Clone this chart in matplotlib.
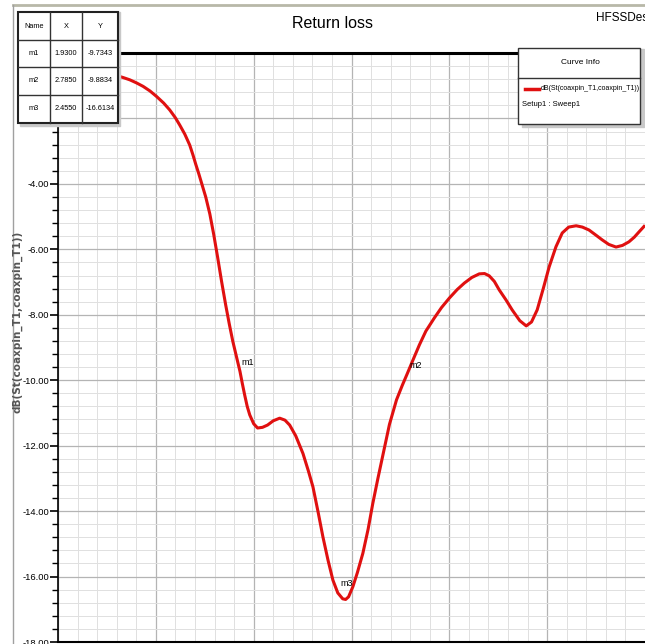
import matplotlib.pyplot as plt
import matplotlib.patches as patches
import matplotlib.lines as mlines

plt.rcParams['font.family'] = ['Liberation Sans', 'DejaVu Sans']

# curve (GHz, dB)
freq = [1.00, 1.10, 1.20, 1.25, 1.30, 1.333, 1.367, 1.40, 1.435, 1.47, 1.504,
        1.54, 1.571, 1.60, 1.622, 1.648, 1.673, 1.69, 1.704, 1.72, 1.735,
        1.755, 1.776, 1.796, 1.816, 1.836, 1.857, 1.875, 1.893, 1.912, 1.930,
        1.942, 1.954, 1.967, 1.980, 2.000, 2.020, 2.045, 2.071, 2.100, 2.133,
        2.160, 2.184, 2.215, 2.252, 2.280, 2.303, 2.330, 2.354, 2.380, 2.405,
        2.430, 2.455, 2.470, 2.485, 2.507, 2.530, 2.558, 2.585, 2.609, 2.635,
        2.660, 2.694, 2.730, 2.760, 2.785, 2.820, 2.847, 2.880, 2.923, 2.960,
        3.000, 3.040, 3.077, 3.115, 3.153, 3.180, 3.204, 3.230, 3.255, 3.290,
        3.321, 3.360, 3.393, 3.420, 3.449, 3.480, 3.510, 3.545, 3.577, 3.610,
        3.648, 3.680, 3.714, 3.750, 3.781, 3.815, 3.852, 3.885, 3.918, 3.945,
        3.969, 3.995]
s11 = [-0.30, -0.40, -0.52, -0.60, -0.69, -0.75, -0.82, -0.91, -1.02, -1.16, -1.33,
       -1.53, -1.74, -1.98, -2.20, -2.48, -2.81, -3.12, -3.40, -3.70, -4.00,
       -4.40, -4.92, -5.55, -6.25, -6.98, -7.70, -8.27, -8.80, -9.28, -9.73,
       -10.10, -10.45, -10.80, -11.06, -11.33, -11.46, -11.44, -11.37, -11.24, -11.16,
       -11.22, -11.37, -11.70, -12.24, -12.78, -13.26, -14.05, -14.79, -15.50, -16.11,
       -16.50, -16.68, -16.70, -16.62, -16.31, -15.88, -15.29, -14.55, -13.76, -13.00,
       -12.30, -11.35, -10.60, -10.15, -9.80, -9.30, -8.92, -8.50, -8.10, -7.78,
       -7.49, -7.23, -7.03, -6.86, -6.75, -6.74, -6.81, -6.98, -7.24, -7.55,
       -7.85, -8.18, -8.34, -8.22, -7.85, -7.20, -6.54, -5.92, -5.50, -5.32,
       -5.28, -5.32, -5.41, -5.57, -5.71, -5.85, -5.93, -5.88, -5.77, -5.63,
       -5.47, -5.30]

marker_names = ['m1', 'm2', 'm3']
marker_x = [1.9300, 2.7850, 2.4550]
marker_y = [-9.7343, -9.8834, -16.6134]

y_ticks = [-18, -16, -14, -12, -10, -8, -6, -4, -2]

W, H = 645, 644
fig = plt.figure(figsize=(6.45, 6.44), dpi=100)

def fx(px):
    return px / W

def fy(py):
    return 1 - py / H

# window frame lines
fig.add_artist(mlines.Line2D([fx(13), fx(645)], [fy(5), fy(5)], color='#b8b8a8', lw=2))
fig.add_artist(mlines.Line2D([fx(13), fx(13)], [fy(5), fy(644)], color='#a0a0a0', lw=1))

ax = fig.add_axes([fx(58), fy(642), fx(645) - fx(58), fy(53) - fy(642)])
ax.plot(freq, s11, color='#e01010', lw=2.2, zorder=3)
ax.set_xlim(1.0, 1.0 + 587 / 196)
ax.set_ylim(-18, 0)

ax.set_yticks(y_ticks)
ax.set_yticklabels(['%.2f' % v for v in y_ticks], fontsize=6.8)
ax.set_yticks([v / 10 for v in range(-180, 1, 4)], minor=True)
ax.set_xticks([1.0, 1.5, 2.0, 2.5, 3.0, 3.5])
ax.set_xticks([v / 10 for v in range(10, 41)], minor=True)
ax.tick_params(axis='x', which='both', length=0, labelbottom=False)
ax.tick_params(axis='y', which='major', length=6, width=1.2, direction='out', pad=0.5)
ax.tick_params(axis='y', which='minor', length=4, width=1.0, direction='out')
ax.grid(which='major', color='#b4b4b4', lw=0.9)
ax.grid(which='minor', color='#e0e0e0', lw=0.7)
ax.set_axisbelow(True)
ax.spines['right'].set_visible(False)
ax.spines['top'].set_linewidth(2.2)
ax.spines['left'].set_linewidth(1.2)
ax.spines['bottom'].set_linewidth(1.5)

# marker labels
offsets = {'m1': (0.005, 0.15), 'm2': (0.01, 0.2), 'm3': (-0.01, 0.25)}
for n, mx, my in zip(marker_names, marker_x, marker_y):
    dx, dy = offsets[n]
    ax.text(mx + dx, my + dy, n, fontsize=6.5, ha='left', va='bottom', zorder=4)

fig.text(fx(17), fy(322), 'dB(St(coaxpin_T1,coaxpin_T1))', rotation=90,
         fontsize=7.5, color='#555555', ha='center', va='center', family='DejaVu Sans',
         fontweight='bold')

fig.text(fx(332), fy(23), 'Return loss', fontsize=11.5, ha='center', va='center')
fig.text(fx(596), fy(18), 'HFSSDesign1', fontsize=8.5, ha='left', va='center')

# marker table
col_x = [18, 50, 82, 118]
row_y = [12, 40, 67, 95, 123]
fig.add_artist(patches.Rectangle((fx(20), fy(126)), fx(100), fy(0) - fy(114),
                                 transform=fig.transFigure, color='#c8c8c8', zorder=5))
fig.add_artist(patches.Rectangle((fx(18), fy(123)), fx(100), fy(0) - fy(111),
                                 transform=fig.transFigure, facecolor='white',
                                 edgecolor='#222222', lw=1.5, zorder=6))
for c in col_x[1:-1]:
    fig.add_artist(mlines.Line2D([fx(c), fx(c)], [fy(12), fy(123)], color='#333333', lw=1, zorder=7))
for r in row_y[1:-1]:
    fig.add_artist(mlines.Line2D([fx(18), fx(118)], [fy(r), fy(r)], color='#333333', lw=1, zorder=7))
header = ['Name', 'X', 'Y']
rows = [header] + [[n, '%.4f' % x, '%.4f' % y] for n, x, y in zip(marker_names, marker_x, marker_y)]
for i, row in enumerate(rows):
    yc = (row_y[i] + row_y[i + 1]) / 2
    for j, txt in enumerate(row):
        xc = (col_x[j] + col_x[j + 1]) / 2
        fig.text(fx(xc), fy(yc), txt, fontsize=5.3, ha='center', va='center', zorder=8)

# curve info box
fig.add_artist(patches.Rectangle((fx(522), fy(127)), fx(122), fy(0) - fy(78),
                                 transform=fig.transFigure, color='#c8c8c8', zorder=5))
fig.add_artist(patches.Rectangle((fx(518), fy(124)), fx(122), fy(0) - fy(76),
                                 transform=fig.transFigure, facecolor='white',
                                 edgecolor='#333333', lw=1, zorder=6))
fig.add_artist(mlines.Line2D([fx(518), fx(640)], [fy(78), fy(78)], color='#333333', lw=1, zorder=7))
fig.text(fx(580), fy(63), 'Curve Info', fontsize=6, ha='center', va='center', zorder=8)
fig.add_artist(mlines.Line2D([fx(525), fx(539)], [fy(89), fy(89)], color='#e01010', lw=2.5, zorder=8))
fig.text(fx(541), fy(89), 'dB(St(coaxpin_T1,coaxpin_T1))', fontsize=5.0, ha='left', va='center', zorder=8)
fig.text(fx(522), fy(104), 'Setup1 : Sweep1', fontsize=5.5, ha='left', va='center', zorder=8)

fig.savefig('out.png', dpi=100)
